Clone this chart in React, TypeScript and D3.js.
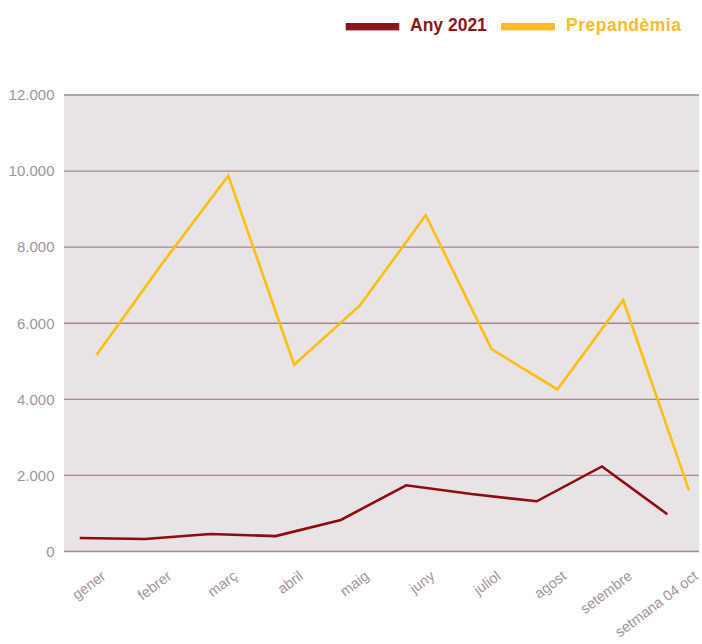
import React from "react";
import * as d3 from "d3";

const months = ["gener", "febrer", "març", "abril", "maig", "juny", "juliol", "agost", "setembre", "setmana 04 oct"];
const any2021 = [355, 330, 460, 405, 830, 1740, 1510, 1320, 2235, 980];
const prepandemia = [5170, 7580, 9880, 4910, 6470, 8840, 5320, 4260, 6610, 1605];
const yTicks = [0, 2000, 4000, 6000, 8000, 10000, 12000];
const legendLabels = ["Any 2021", "Prepandèmia"];

const W = 702, H = 644;
const plot = { left: 64, right: 699, top: 95, bottom: 551.5 };
const RED = "#8c0c0f";
const YELLOW = "#fdbf0f";
const GRID = "#9e8890";
const TEXT = "#a4929a";
const FONT = "'Liberation Sans', Arial, Helvetica, sans-serif";

export default function App() {
  const y = d3.scaleLinear().domain([0, 12000]).range([plot.bottom, plot.top]);
  const xRed = d3.scalePoint<string>().domain(months).range([79.7, 667.3]);
  const xYel = d3.scalePoint<string>().domain(months).range([96.7, 689]);
  const line = (xs: d3.ScalePoint<string>) =>
    d3.line<number>().x((_, i) => xs(months[i]) as number).y((d) => y(d));
  const fmt = (v: number) => (v === 0 ? "0" : d3.format(",")(v).replace(/,/g, "."));

  return (
    <svg width={W} height={H} style={{ position: "absolute", left: 0, top: 0, background: "#fff" }} fontFamily={FONT}>
      <rect x={plot.left} y={plot.top} width={plot.right - plot.left} height={plot.bottom - plot.top} fill="#e8e3e5" />
      {yTicks.map((t) => (
        <g key={t}>
          <line x1={plot.left} x2={plot.right} y1={y(t)} y2={y(t)} stroke={GRID} strokeWidth={1.3} />
          <text x={54.5} y={y(t)} dy="0.35em" textAnchor="end" fontSize={15} fill={TEXT}>{fmt(t)}</text>
        </g>
      ))}
      {months.map((m) => (
        <text key={m} transform={`translate(${(xYel(m) as number) + 10},578) rotate(-37)`} textAnchor="end" fontSize={14.5} fill={TEXT}>{m}</text>
      ))}
      <path d={line(xYel)(prepandemia) || ""} fill="none" stroke={YELLOW} strokeWidth={2.6} strokeLinejoin="miter" />
      <path d={line(xRed)(any2021) || ""} fill="none" stroke={RED} strokeWidth={2.6} strokeLinejoin="miter" />
      <g>
        <rect x={345.7} y={23} width={53.6} height={7.4} fill={"#8b1518"} />
        <text x={410} y={30.7} fontSize={17.5} fontWeight="bold" fill={"#8b1518"}>{legendLabels[0]}</text>
        <rect x={501} y={23} width={54} height={7.4} fill={"#fbbb2b"} />
        <text x={566} y={30.7} fontSize={17.5} fontWeight="bold" fill={"#fbbb2b"} letterSpacing={0.5}>{legendLabels[1]}</text>
      </g>
    </svg>
  );
}
